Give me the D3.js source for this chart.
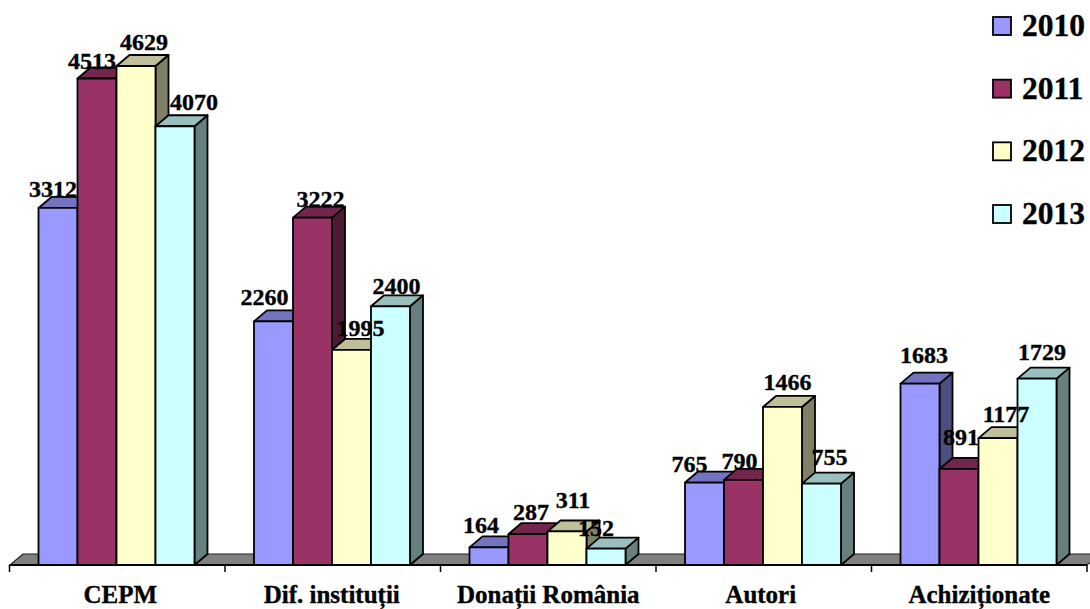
<!DOCTYPE html>
<html>
<head>
<meta charset="utf-8">
<script src="https://cdn.jsdelivr.net/npm/d3@7"></script>
<style>
html, body { margin: 0; padding: 0; background: #fff; }
svg { display: block; }
text { font-family: "Liberation Serif", serif; font-weight: bold; fill: #000; stroke: #000; stroke-width: 0.35px; }
</style>
</head>
<body>
<svg id="chart"></svg>
<script>
const categories = ["CEPM", "Dif. instituții", "Donații România", "Autori", "Achiziționate"];
const years = ["2010", "2011", "2012", "2013"];
const values2010 = [3312, 2260, 164, 765, 1683];
const values2011 = [4513, 3222, 287, 790, 891];
const values2012 = [4629, 1995, 311, 1466, 1177];
const values2013 = [4070, 2400, 152, 755, 1729];
const seriesValues = [values2010, values2011, values2012, values2013];

// the labels were moved by hand in the original, offset from the bar's top centre [dx, dy]
const labelNudge = [
    [[-5, -11], [-5, -10], [8, -16], [19, -16]],
    [[-9, -16], [8, -11], [9, -14], [6, -12]],
    [[-8, -14], [3, -14], [6, -23], [-10, -13]],
    [[-15, -11], [-4, -11], [5, -17], [8, -19]],
    [[4, -21], [2, -24], [8, -16], [5, -19]]
];
const categoryNudge = [3, -1, 0, -3, 0];

const colors = ["#9999ff", "#993366", "#ffffcc", "#ccffff"];
const tops = ["#7373bf", "#73264d", "#bfbf99", "#99bfbf"];
const sides = ["#4d4d80", "#4d1a33", "#808066", "#668080"];

const width = 1090;
const height = 609;
const baseY = 565;
const depthX = 13;
const depthY = 11;
const labelSize = 24;

const svg = d3.select("#chart").attr("width", width).attr("height", height);

const x0 = d3.scaleBand().domain(categories).range([9.5, 1087]);
const x1 = d3.scaleBand().domain(years).range([29, 185]);
const y = d3.scaleLinear().domain([0, 4629]).range([baseY, 66]);

// floor
svg.append("path")
    .attr("d", d3.line()([[10, baseY], [10 + depthX, baseY - depthY], [1087 + depthX, baseY - depthY], [1087, baseY]]) + "Z")
    .attr("fill", "#808080")
    .attr("stroke", "#222")
    .attr("stroke-width", 1.2);

// bars, left to right so later ones cover the earlier sides
categories.forEach((cat, c) => {
    years.forEach((yr, s) => {
        const left = x0(cat) + x1(yr);
        const right = left + x1.bandwidth();
        const top = y(seriesValues[s][c]);
        const g = svg.append("g").attr("stroke", "#000").attr("stroke-width", 1.8).attr("stroke-linejoin", "round");

        g.append("path")
            .attr("d", d3.line()([[right, baseY], [right + depthX, baseY - depthY], [right + depthX, top - depthY], [right, top]]) + "Z")
            .attr("fill", sides[s]);
        g.append("path")
            .attr("d", d3.line()([[left, top], [left + depthX, top - depthY], [right + depthX, top - depthY], [right, top]]) + "Z")
            .attr("fill", tops[s]);
        g.append("rect")
            .attr("x", left)
            .attr("y", top)
            .attr("width", right - left)
            .attr("height", baseY - top)
            .attr("fill", colors[s]);
    });
});

// axis line and ticks at the band edges
const tickXs = categories.map(c => x0(c)).concat(x0.range()[1]);
svg.append("line")
    .attr("x1", 9.5).attr("x2", 1087)
    .attr("y1", baseY).attr("y2", baseY)
    .attr("stroke", "#000").attr("stroke-width", 2);
svg.selectAll(".tick")
    .data(tickXs)
    .join("line")
    .attr("class", "tick")
    .attr("x1", d => d).attr("x2", d => d)
    .attr("y1", baseY).attr("y2", baseY + 7)
    .attr("stroke", "#000").attr("stroke-width", 1.5);

svg.selectAll(".cat")
    .data(categories)
    .join("text")
    .attr("class", "cat")
    .attr("x", (d, i) => x0(d) + x0.bandwidth() / 2 + categoryNudge[i])
    .attr("y", 603)
    .attr("text-anchor", "middle")
    .attr("font-size", 25)
    .text(d => d);

// value labels
categories.forEach((cat, c) => {
    years.forEach((yr, s) => {
        const v = seriesValues[s][c];
        svg.append("text")
            .attr("x", x0(cat) + x1(yr) + x1.bandwidth() / 2 + labelNudge[c][s][0])
            .attr("y", y(v) + labelNudge[c][s][1])
            .attr("text-anchor", "middle")
            .attr("font-size", labelSize)
            .text(v);
    });
});

// legend
const legendY = d3.scalePoint().domain(years).range([26, 214]);
const legend = svg.selectAll(".legend")
    .data(years)
    .join("g")
    .attr("class", "legend")
    .attr("transform", d => `translate(993,${legendY(d)})`);
legend.append("rect")
    .attr("x", 0).attr("y", -9)
    .attr("width", 18).attr("height", 18)
    .attr("fill", (d, i) => colors[i])
    .attr("stroke", "#000")
    .attr("stroke-width", 1.8);
legend.append("text")
    .attr("x", 29)
    .attr("y", 10)
    .attr("font-size", 31.5)
    .text(d => d);
</script>
</body>
</html>
